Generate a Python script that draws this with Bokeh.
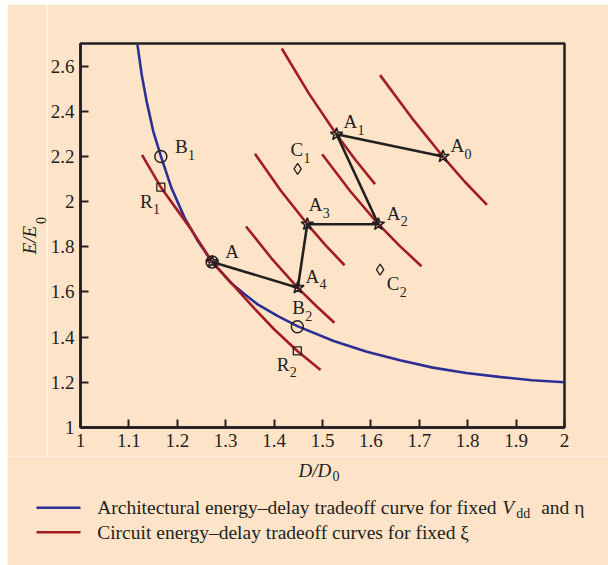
from bokeh.plotting import figure
from bokeh.models import Range1d, FixedTicker
from bokeh.layouts import row
from bokeh.embed import file_html
from bokeh.resources import INLINE
from bokeh.core.properties import value

BG = "#fde4c8"
INK = "#231f20"
BLUE = "#2b2f94"
RED = "#a21c22"
FONT = "Liberation Serif"

# ---------------- data ----------------
x_ticks = [1, 1.1, 1.2, 1.3, 1.4, 1.5, 1.6, 1.7, 1.8, 1.9, 2]
x_tick_labels = ["1", "1.1", "1.2", "1.3", "1.4", "1.5", "1.6", "1.7", "1.8", "1.9", "2"]
y_ticks = [1, 1.2, 1.4, 1.6, 1.8, 2, 2.2, 2.4, 2.6]
y_tick_labels = ["1", "1.2", "1.4", "1.6", "1.8", "2", "2.2", "2.4", "2.6"]

# architectural tradeoff curve (blue)
arch_D = [1.1177, 1.1266, 1.1368, 1.1505, 1.1662, 1.188, 1.2154, 1.2429, 1.2716,
          1.311, 1.3385, 1.366, 1.407, 1.448, 1.523, 1.5916, 1.660, 1.728, 1.797, 1.865, 1.933, 2.0]
arch_E = [2.695, 2.560, 2.442, 2.310, 2.200, 2.060, 1.927, 1.824, 1.733,
          1.640, 1.591, 1.545, 1.4945, 1.449, 1.383, 1.3357, 1.2975, 1.265, 1.2415, 1.224, 1.209, 1.200]

# circuit tradeoff curves (red)
circ_D = [
    [1.127, 1.166, 1.229, 1.272, 1.36, 1.40, 1.448, 1.496],
    [1.342, 1.395, 1.449, 1.487, 1.5245],
    [1.3604, 1.414, 1.4685, 1.507, 1.5457],
    [1.4993, 1.557, 1.6154, 1.66, 1.7044],
    [1.4158, 1.472, 1.5286, 1.569, 1.6086],
    [1.6189, 1.684, 1.7487, 1.794, 1.8398],
]
circ_E = [
    [2.207, 2.064, 1.876, 1.733, 1.525, 1.435, 1.339, 1.255],
    [1.890, 1.748, 1.618, 1.538, 1.4636],
    [2.2115, 2.048, 1.9007, 1.805, 1.7183],
    [2.2097, 2.047, 1.9007, 1.803, 1.714],
    [2.678, 2.478, 2.298, 2.182, 2.0773],
    [2.560, 2.372, 2.1996, 2.088, 1.986],
]

# design path A -> A4 -> A3 -> A2 -> A1 -> A0
path_D = [1.272, 1.449, 1.4685, 1.6155, 1.529, 1.749]
path_E = [1.733, 1.619, 1.900, 1.900, 2.298, 2.200]

circle_D = [1.272, 1.166, 1.448]   # A, B1, B2
circle_E = [1.733, 2.200, 1.446]
square_D = [1.166, 1.448]          # R1, R2
square_E = [2.064, 1.339]
diamond_D = [1.4486, 1.619]        # C1, C2
diamond_E = [2.145, 1.699]

label_base = ["A", "A", "A", "A", "A", "A", "B", "B", "R", "R", "C", "C"]
label_sub = ["", "0", "1", "2", "3", "4", "1", "2", "1", "2", "1", "2"]
label_D = [1.299, 1.7645, 1.5436, 1.6326, 1.4718, 1.465, 1.195, 1.4377, 1.123, 1.4055, 1.434, 1.6326]
label_E = [1.780, 2.248, 2.354, 1.949, 1.986, 1.670, 2.244, 1.530, 2.001, 1.280, 2.229, 1.6366]
sub_dx = [14 if b == "A" else 13 for b in label_base]

legend_texts = ["Architectural energy\u2013delay tradeoff curve for fixed",
                "Circuit energy\u2013delay tradeoff curves for fixed \u03be"]
legend_colors = [BLUE, RED]

# ---------------- main plot ----------------
TOP, BOTTOM, FRAME_H = 39, 29, 384
H = TOP + FRAME_H + BOTTOM

p = figure(width=561, height=H, x_range=Range1d(1, 2), y_range=Range1d(1, 2.7),
           output_backend="svg", toolbar_location=None,
           min_border_left=31, min_border_right=44, min_border_top=TOP, min_border_bottom=BOTTOM,
           background_fill_color=BG, border_fill_color=BG)
p.grid.visible = False
p.outline_line_color = INK
p.outline_line_width = 2.5
p.outline_line_alpha = 1.0

for ax in (p.xaxis[0], p.yaxis[0]):
    ax.axis_line_color = INK
    ax.axis_line_width = 2.5
    ax.major_tick_in = 8
    ax.major_tick_out = 0
    ax.major_tick_line_color = INK
    ax.major_tick_line_width = 2
    ax.minor_tick_line_color = None
    ax.major_label_text_font = FONT
    ax.major_label_text_font_size = "19px"
    ax.major_label_text_color = INK
    ax.major_label_standoff = 6

p.xaxis.ticker = FixedTicker(ticks=x_ticks)
p.xaxis.major_label_overrides = dict(zip(x_ticks, x_tick_labels))
p.yaxis.ticker = FixedTicker(ticks=y_ticks)
p.yaxis.major_label_overrides = dict(zip(y_ticks, y_tick_labels))

p.line(arch_D, arch_E, line_color=BLUE, line_width=2.6)
p.multi_line(circ_D, circ_E, line_color=RED, line_width=2.6)
p.line(path_D, path_E, line_color=INK, line_width=2.6)
p.scatter(path_D, path_E, marker="star", size=13, fill_color=None, line_color=INK, line_width=1.6)
p.scatter(circle_D, circle_E, marker="circle", size=12, fill_color=None, line_color=INK, line_width=1.5)
p.scatter(square_D, square_E, marker="square", size=8, fill_color=None, line_color=INK, line_width=1.3)
p.scatter(diamond_D, diamond_E, marker="diamond", size=11, fill_color=None, line_color=INK, line_width=1.3)

p.text(x=label_D, y=label_E, text=label_base, text_font=value(FONT), text_font_size="19px",
       text_color=INK, text_align="left", text_baseline="middle")
p.text(x=label_D, y=label_E, text=label_sub, x_offset=sub_dx, y_offset=8,
       text_font=value(FONT), text_font_size="14px",
       text_color=INK, text_align="left", text_baseline="middle")

# ---------------- y-axis title strip (left of the plot) ----------------
yfig = figure(width=40, height=H, x_range=Range1d(0, 40), y_range=Range1d(1, 2.7),
              output_backend="svg", toolbar_location=None,
              min_border_left=0, min_border_right=0, min_border_top=TOP, min_border_bottom=BOTTOM,
              x_axis_type=None, y_axis_type=None,
              background_fill_color=BG, border_fill_color=BG, outline_line_color=None)
yfig.grid.visible = False
yfig.text(x=[22], y=[1.830], text=["E/E"], angle=90, angle_units="deg",
          text_font=value(FONT), text_font_style="italic", text_font_size="19px",
          text_color=INK, text_align="center", text_baseline="middle")
yfig.text(x=[33], y=[1.916], text=["0"], angle=90, angle_units="deg",
          text_font=value(FONT), text_font_size="14px",
          text_color=INK, text_align="center", text_baseline="middle")

top_row = row(yfig, p, margin=(4, 0, 0, 7))

# ---------------- x-axis title + legend strip ----------------
LH = 565 - 4 - H
leg = figure(width=601, height=LH, x_range=Range1d(0, 601), y_range=Range1d(LH, 0),
             output_backend="svg", toolbar_location=None, min_border=0,
             min_border_left=0, min_border_right=0, min_border_top=0, min_border_bottom=0,
             x_axis_type=None, y_axis_type=None, margin=(0, 0, 0, 7),
             background_fill_color=BG, border_fill_color=BG, outline_line_color=None)
leg.grid.visible = False

Y0 = 4 + H  # page y of the strip's top edge
leg.text(x=[291], y=[470 - Y0], text=["D/D"], text_font=value(FONT), text_font_style="italic",
         text_font_size="19px", text_color=INK, text_align="left", text_baseline="middle")
leg.text(x=[325], y=[475 - Y0], text=["0"], text_font=value(FONT),
         text_font_size="14px", text_color=INK, text_align="left", text_baseline="middle")

r1, r2 = 507.3 - Y0, 531.7 - Y0
leg.multi_line([[29, 73], [29, 73]], [[r1, r1], [r2, r2]], line_color=legend_colors, line_width=2.6)
leg.text(x=[89.7, 89.7], y=[r1, r2], text=legend_texts,
         text_font=value(FONT), text_font_size="19.5px", text_color=INK,
         text_align="left", text_baseline="middle")
leg.text(x=[494.7], y=[r1], text=["V"], text_font=value(FONT), text_font_style="italic",
         text_font_size="19.5px", text_color=INK, text_align="left", text_baseline="middle")
leg.text(x=[508.7], y=[r1 + 6], text=["dd"], text_font=value(FONT),
         text_font_size="14px", text_color=INK, text_align="left", text_baseline="middle")
leg.text(x=[533.7], y=[r1], text=["and \u03b7"], text_font=value(FONT),
         text_font_size="19.5px", text_color=INK, text_align="left", text_baseline="middle")

open("out.html", "w").write(file_html([top_row, leg], INLINE))
